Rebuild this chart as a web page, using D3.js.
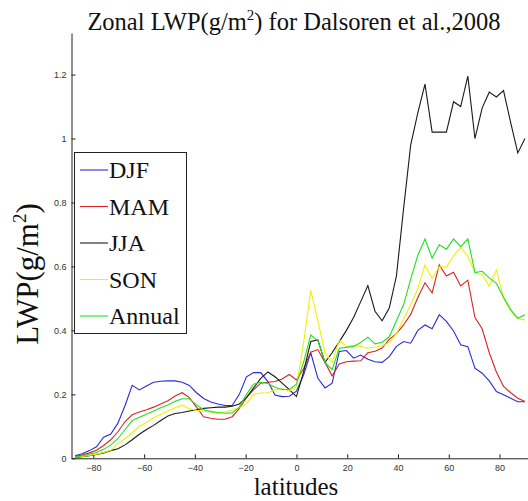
<!DOCTYPE html>
<html>
<head>
<meta charset="utf-8">
<script src="https://cdn.jsdelivr.net/npm/d3@7"></script>
<style>
  body { margin: 0; background: #fff; }
  .tick text { font-family: "Liberation Sans", Arial, sans-serif; font-size: 9px; fill: #333; }
</style>
</head>
<body>
<div id="chart"></div>
<script>
var width = 528
var height = 501

// latitudes of the zonal means (degrees)
var latitudes = [-87.19, -84.38, -81.56, -78.75, -75.94, -73.13, -70.31, -67.5, -64.69, -61.88,
  -59.06, -56.25, -53.44, -50.63, -47.81, -45, -42.19, -39.38, -36.56, -33.75,
  -30.94, -28.13, -25.31, -22.5, -19.69, -16.88, -14.06, -11.25, -8.44, -5.63,
  -2.81, 0, 2.81, 5.63, 8.44, 11.25, 14.06, 16.88, 19.69, 22.5,
  25.31, 28.13, 30.94, 33.75, 36.56, 39.38, 42.19, 45, 47.81, 50.63,
  53.44, 56.25, 59.06, 61.88, 64.69, 67.5, 70.31, 73.13, 75.94, 78.75,
  81.56, 84.38, 87.19, 90]

var djf = [0.008, 0.014, 0.024, 0.036, 0.066, 0.076, 0.11, 0.165, 0.228, 0.214,
  0.226, 0.238, 0.241, 0.242, 0.242, 0.238, 0.228, 0.205, 0.187, 0.176,
  0.17, 0.165, 0.165, 0.2, 0.255, 0.268, 0.268, 0.24, 0.198, 0.193,
  0.194, 0.21, 0.26, 0.33, 0.25, 0.22, 0.235, 0.334, 0.337, 0.313,
  0.323, 0.31, 0.302, 0.3, 0.318, 0.35, 0.365, 0.36, 0.4, 0.417,
  0.405, 0.449, 0.428, 0.398, 0.355, 0.349, 0.282, 0.266, 0.242, 0.209,
  0.199, 0.188, 0.177, 0.177]
var mam = [0.006, 0.01, 0.017, 0.025, 0.04, 0.058, 0.083, 0.115, 0.136, 0.145,
  0.152, 0.16, 0.17, 0.18, 0.195, 0.205, 0.19, 0.16, 0.13, 0.125,
  0.122, 0.122, 0.13, 0.155, 0.19, 0.215, 0.235, 0.238, 0.24, 0.248,
  0.262, 0.245, 0.28, 0.332, 0.34, 0.3, 0.258, 0.295, 0.302, 0.304,
  0.305, 0.33, 0.335, 0.345, 0.372, 0.39, 0.417, 0.45, 0.503, 0.549,
  0.517, 0.605, 0.57, 0.582, 0.539, 0.557, 0.44, 0.405, 0.33, 0.27,
  0.225, 0.205, 0.188, 0.178]
var jja = [0.003, 0.005, 0.008, 0.012, 0.017, 0.024, 0.03, 0.042, 0.058, 0.075,
  0.09, 0.103, 0.118, 0.132, 0.14, 0.143, 0.148, 0.152, 0.156, 0.158,
  0.16, 0.16, 0.163, 0.17, 0.19, 0.22, 0.25, 0.27, 0.255, 0.235,
  0.215, 0.193, 0.27, 0.365, 0.37, 0.3, 0.33, 0.365, 0.4, 0.44,
  0.49, 0.54, 0.46, 0.43, 0.47, 0.57, 0.78, 0.98, 1.08, 1.17,
  1.02, 1.02, 1.02, 1.115, 1.1, 1.195, 1.0, 1.095, 1.145, 1.13,
  1.15, 1.05, 0.955, 1.0]
var son = [0.004, 0.006, 0.009, 0.013, 0.018, 0.025, 0.045, 0.062, 0.08, 0.1,
  0.112, 0.127, 0.138, 0.148, 0.158, 0.166, 0.155, 0.15, 0.147, 0.145,
  0.142, 0.145, 0.15, 0.158, 0.17, 0.2, 0.204, 0.205, 0.214, 0.218,
  0.21, 0.224, 0.36, 0.525, 0.43, 0.33, 0.3, 0.37, 0.35, 0.353,
  0.35, 0.344, 0.348, 0.352, 0.362, 0.39, 0.435, 0.48, 0.53, 0.605,
  0.562, 0.599, 0.598, 0.634, 0.66, 0.632, 0.58, 0.575, 0.538, 0.589,
  0.5, 0.46, 0.436, 0.433]
var annual = [0.004, 0.008, 0.013, 0.018, 0.028, 0.042, 0.062, 0.09, 0.118, 0.128,
  0.138, 0.148, 0.158, 0.167, 0.178, 0.186, 0.186, 0.167, 0.152, 0.146,
  0.143, 0.141, 0.142, 0.16, 0.2, 0.232, 0.238, 0.234, 0.222, 0.215,
  0.215, 0.232, 0.3, 0.386, 0.368, 0.3, 0.277, 0.344, 0.347, 0.35,
  0.362, 0.379, 0.358, 0.363, 0.38, 0.43, 0.48, 0.56, 0.635, 0.686,
  0.626, 0.668, 0.654, 0.686, 0.662, 0.686, 0.581, 0.585, 0.564, 0.547,
  0.504, 0.465, 0.438, 0.449]

var seriesNames = ["DJF", "MAM", "JJA", "SON", "Annual"]
var seriesValues = [djf, mam, jja, son, annual]
var seriesColors = ["#2a2ad6", "#d82424", "#1a1a1a", "#f0f000", "#22e022"]

var xTicks = [-80, -60, -40, -20, 0, 20, 40, 60, 80]
var yTicks = [0, 0.2, 0.4, 0.6, 0.8, 1, 1.2]

var svg = d3.select("#chart").append("svg").attr("width", width).attr("height", height)

var x = d3.scaleLinear().domain([-88.6, 91.4]).range([71.5, 528.5])
var y = d3.scaleLinear().domain([0, 1.33]).range([458.3, 33])

// axes, ticks pointing inward like matlab
var xAxis = svg.append("g")
    .attr("transform", "translate(0," + y(0) + ")")
    .call(d3.axisBottom(x).tickValues(xTicks).tickSizeInner(-4).tickSizeOuter(0).tickPadding(6))
var yAxis = svg.append("g")
    .attr("transform", "translate(" + x(-88.6) + ",0)")
    .call(d3.axisLeft(y).tickValues(yTicks).tickSizeInner(-4).tickSizeOuter(0).tickPadding(5).tickFormat(d3.format("")))
svg.selectAll(".domain").attr("stroke", "#222")
svg.selectAll(".tick line").attr("stroke", "#222")

var line = d3.line()
    .x((d, i) => x(latitudes[i]))
    .y(d => y(d))

seriesValues.forEach(function(vals, k) {
    svg.append("path")
        .datum(vals)
        .attr("fill", "none")
        .attr("stroke", seriesColors[k])
        .attr("stroke-width", 1.1)
        .attr("d", line)
})

// legend
var legend = svg.append("g")
legend.append("rect")
    .attr("x", 74.5).attr("y", 152.5)
    .attr("width", 112).attr("height", 181)
    .attr("fill", "#fff").attr("stroke", "#222").attr("stroke-width", 1)
seriesNames.forEach(function(name, k) {
    var ly = 170 + k * 36.5
    legend.append("line")
        .attr("x1", 80).attr("x2", 108)
        .attr("y1", ly).attr("y2", ly)
        .attr("stroke", seriesColors[k]).attr("stroke-width", 1.1)
    legend.append("text")
        .attr("x", 109).attr("y", ly + 8)
        .style("font-family", "'Liberation Serif', 'Times New Roman', serif")
        .style("font-size", "24px")
        .attr("fill", "#111")
        .text(name)
})

// title
var title = svg.append("text")
    .attr("x", 294).attr("y", 30)
    .attr("text-anchor", "middle")
    .style("font-family", "'Liberation Serif', 'Times New Roman', serif")
    .style("font-size", "24.5px")
    .attr("fill", "#111")
title.append("tspan").text("Zonal LWP(g/m")
title.append("tspan").attr("dy", -10).style("font-size", "15px").text("2")
title.append("tspan").attr("dy", 10).text(") for Dalsoren et al.,2008")

// y label
var ylab = svg.append("text")
    .attr("transform", "translate(38," + 274 + ") rotate(-90)")
    .attr("text-anchor", "middle")
    .style("font-family", "'Liberation Serif', 'Times New Roman', serif")
    .style("font-size", "31px")
    .attr("fill", "#111")
ylab.append("tspan").text("LWP(g/m")
ylab.append("tspan").attr("dy", -12).style("font-size", "19px").text("2")
ylab.append("tspan").attr("dy", 12).text(")")

// x label
svg.append("text")
    .attr("x", 296).attr("y", 495)
    .attr("text-anchor", "middle")
    .style("font-family", "'Liberation Serif', 'Times New Roman', serif")
    .style("font-size", "25px")
    .attr("fill", "#111")
    .text("latitudes")
</script>
</body>
</html>
